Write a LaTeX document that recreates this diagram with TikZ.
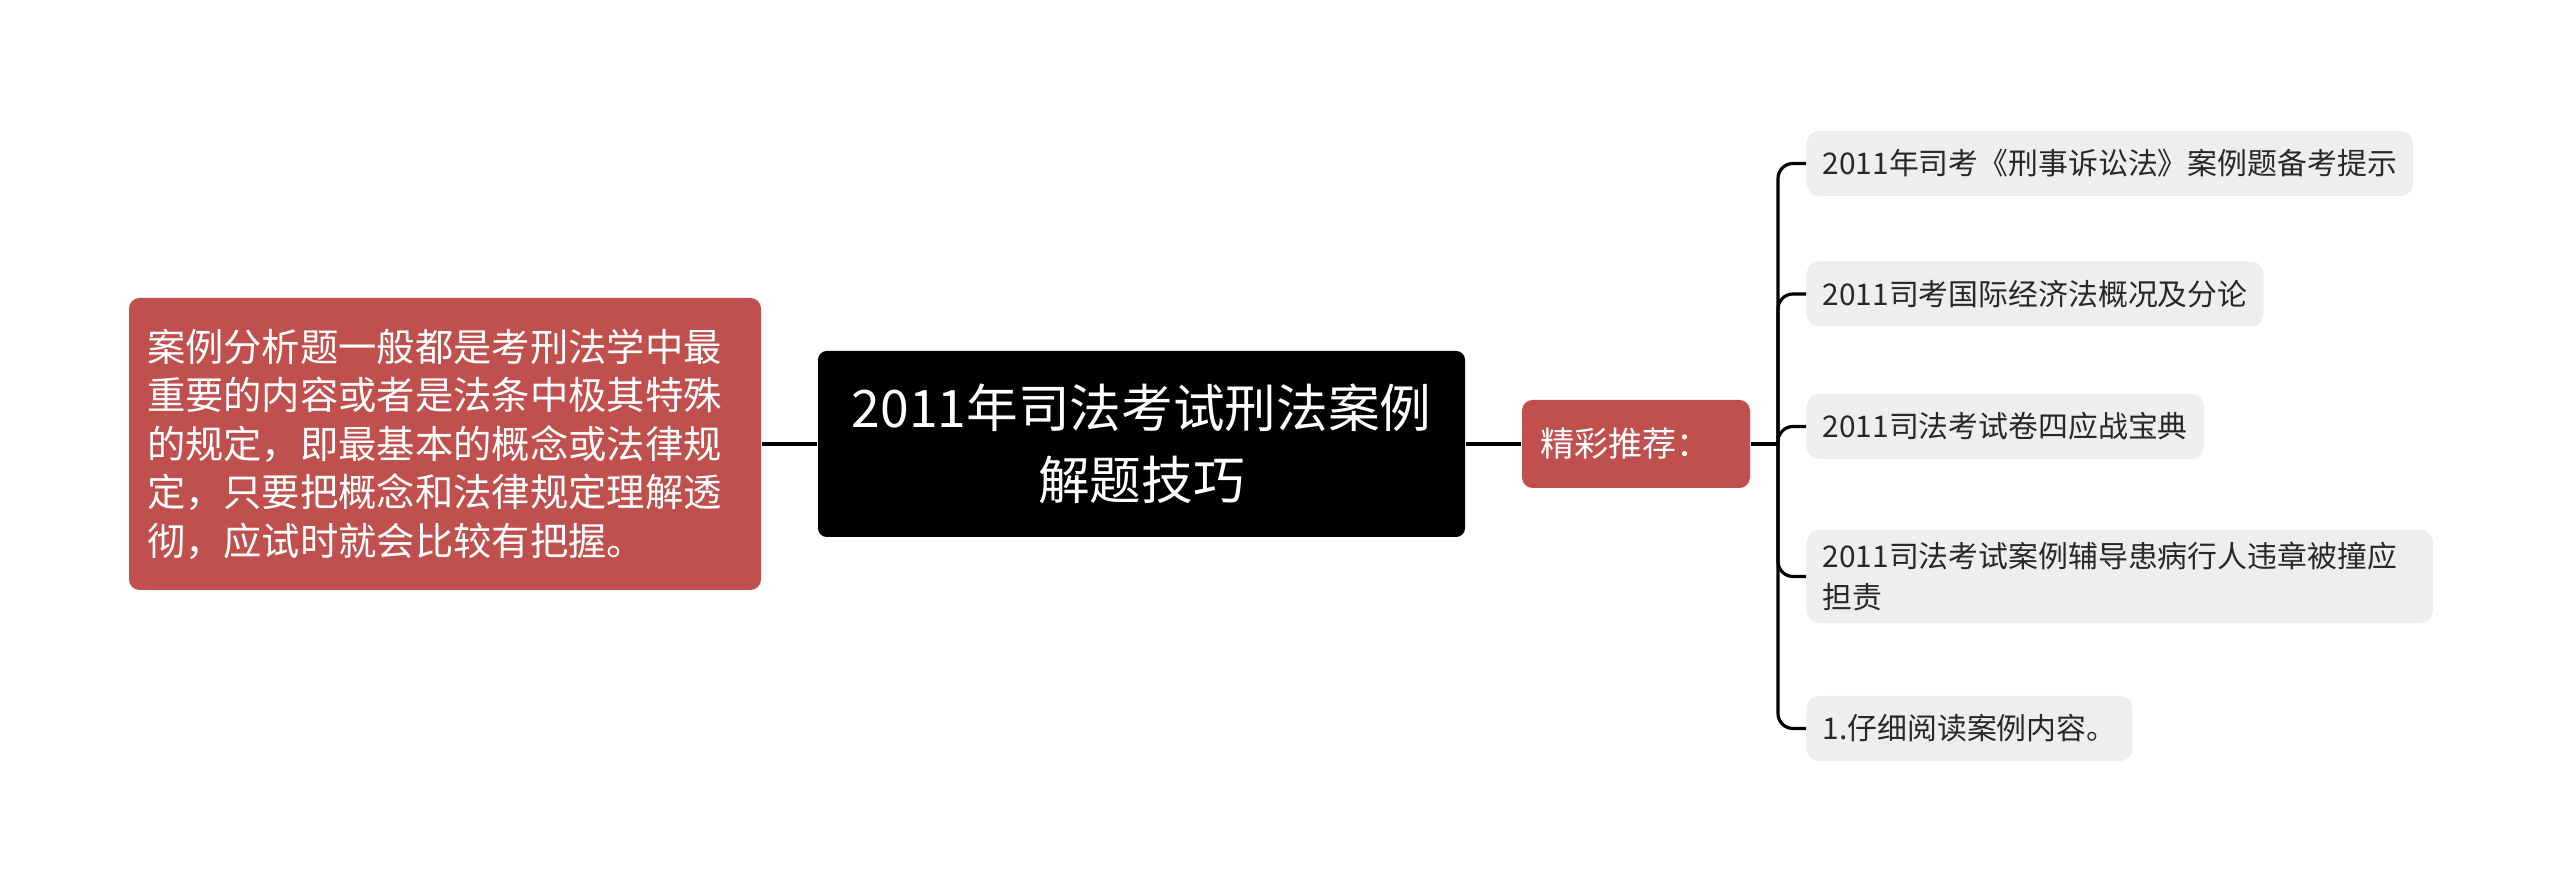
\documentclass[tikz,border=0pt]{standalone}
\usepackage{fontspec}
\setmainfont{Noto Sans CJK SC}
\usetikzlibrary{positioning}
\definecolor{notered}{RGB}{192,80,77}
\definecolor{leafgray}{RGB}{238,238,238}
\definecolor{leaftext}{RGB}{40,40,40}
\tikzset{
    root/.style={fill=black,text=white,rounded corners=2.5pt,align=center,inner sep=0pt,
        minimum width=6.47cm,minimum height=1.86cm,font=\fontsize{14.7pt}{20.5pt}\selectfont},
    redbox/.style={fill=notered,text=white,rounded corners=3pt,align=left,inner xsep=0.18cm},
    leaf/.style={fill=leafgray,text=leaftext,rounded corners=3.5pt,align=left,inner xsep=0.16cm,
        inner ysep=0.12cm,minimum height=0.65cm,anchor=west,font=\fontsize{8.5pt}{11.7pt}\selectfont},
    link/.style={line width=0.9pt,black}
}
\begin{document}
\begin{tikzpicture}
    \useasboundingbox (0,0) rectangle (25.6,8.9);
    \node[root] (root) at (11.415,4.46) {2011年司法考试刑法案例\\解题技巧}; % 中心主题
    \node[redbox,text width=5.96cm,minimum height=2.92cm,font=\fontsize{10.9pt}{13.8pt}\selectfont] (note) at (4.45,4.46)
        {案例分析题一般都是考刑法学中最\\重要的内容或者是法条中极其特殊\\的规定，即最基本的概念或法律规\\定，只要把概念和法律规定理解透\\彻，应试时就会比较有把握。}; % 左侧说明
    \node[redbox,text width=1.92cm,minimum height=0.88cm,font=\fontsize{9.7pt}{12pt}\selectfont] (hub) at (16.36,4.46) {精彩推荐：}; % 右侧分支
    \coordinate (trunk) at (17.78,4.46);
    \draw[link] (note.east) -- (root.west);
    \draw[link] (root.east) -- (hub.west);
    \draw[link] (hub.east) -- (trunk);
    \foreach \y/\t [count=\i] in {7.265/{2011年司考《刑事诉讼法》案例题备考提示},
                                  5.96/{2011司考国际经济法概况及分论},
                                  4.635/{2011司法考试卷四应战宝典},
                                  3.135/{2011司法考试案例辅导患病行人违章被撞应\hspace*{0.2cm}\\担责},
                                  1.615/{1.仔细阅读案例内容。}} {
        \node[leaf] (leaf\i) at (18.06,\y) {\t}; % 推荐条目
        \draw[link,rounded corners=0.15cm] (trunk) |- (leaf\i.west);
    }
\end{tikzpicture}
\end{document}
